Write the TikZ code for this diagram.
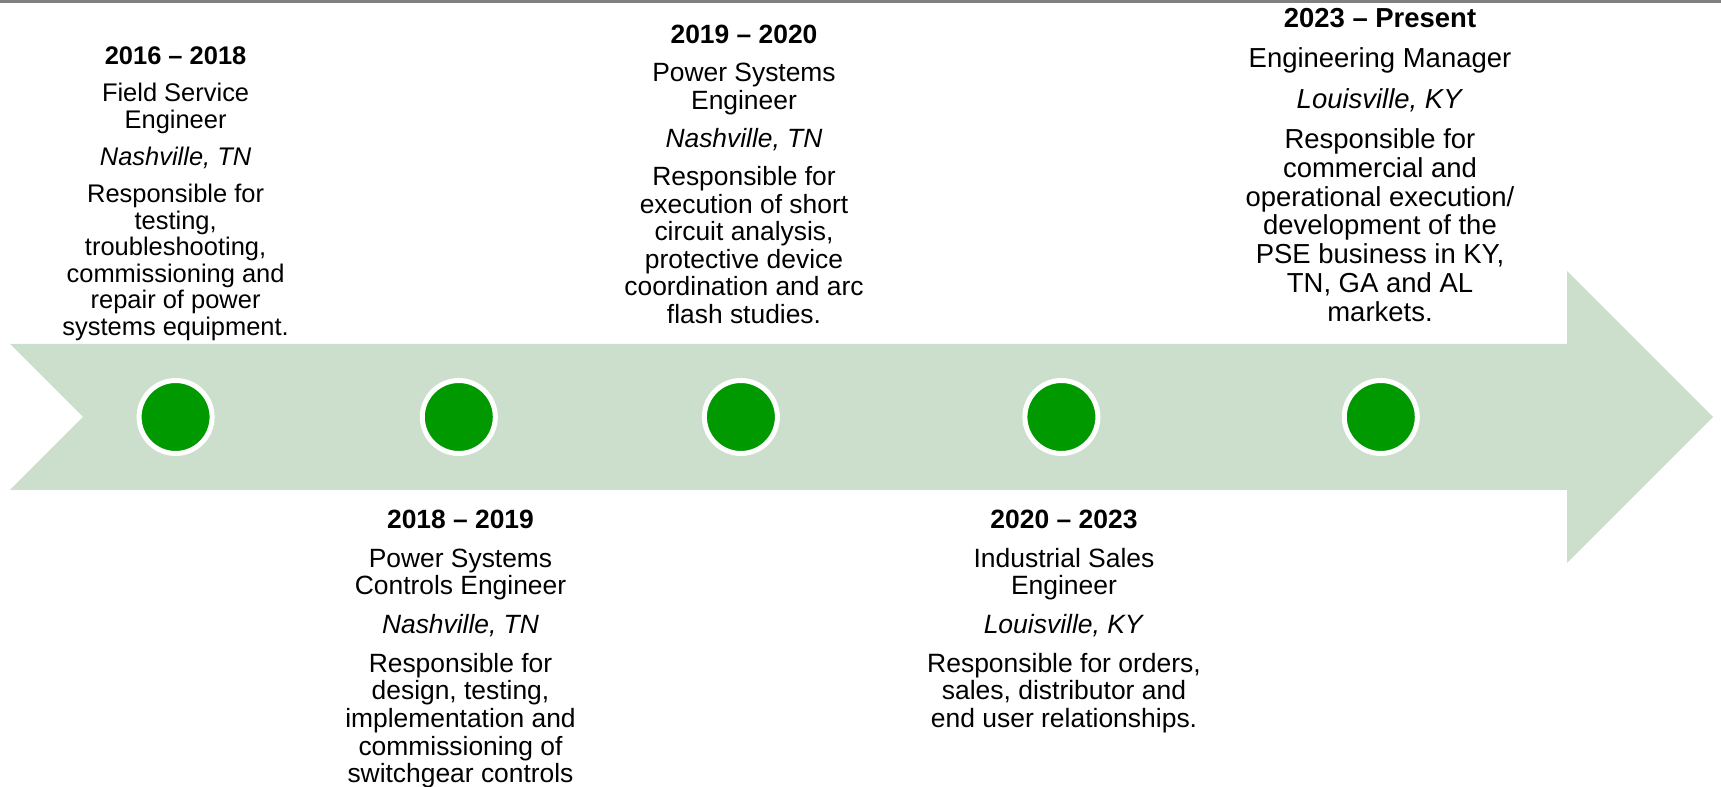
\documentclass[tikz,border=0pt]{standalone}
\usepackage{fontspec}
\setmainfont{Liberation Sans}
\definecolor{arrowgreen}{RGB}{204,223,205}
\definecolor{dotgreen}{RGB}{0,153,0}
\tikzset{
	jobtext/.style 2 args={align=center, inner sep=0pt, anchor=north,
		font=\fontsize{#1}{#2}\selectfont},
	milestone/.style={circle, inner sep=0pt, minimum size=54.75pt,
		fill=dotgreen, draw=white, line width=3.75pt}
}
\begin{document}
\begin{tikzpicture}[x=0.75pt,y=-0.75pt, line join=miter]
	%%Khung va mui ten
	\def \gap{0.4\baselineskip}
	\useasboundingbox (0,0) rectangle (1721,787);
	\fill[gray] (0,0) rectangle (1721,3.5);
	\fill[arrowgreen] (10,344)--(1567,344)--(1567,271)--(1713,417)--(1567,563)
		--(1567,490)--(10,490)--(83,417)--cycle;
	%%Cac moc
	\node[milestone] (dot1) at (175.6,417) {};
	\node[milestone] (dot2) at (458.8,417) {};
	\node[milestone] (dot3) at (740.9,417) {};
	\node[milestone] (dot4) at (1061.4,417) {};
	\node[milestone] (dot5) at (1380.8,417) {};
	%%Noi dung
	\node[jobtext={19.1pt}{19.9pt}] (job1) at (175.6,46.7) {\textbf{2016 -- 2018}\\[\gap]
		Field Service\\ Engineer\\[\gap]
		\textit{Nashville, TN}\\[\gap]
		Responsible for\\ testing,\\ troubleshooting,\\ commissioning and\\
		repair of power\\ systems equipment.};
	\node[jobtext={19.8pt}{20.7pt}] (job2) at (460.5,510) {\textbf{2018 -- 2019}\\[\gap]
		Power Systems\\ Controls Engineer\\[\gap]
		\textit{Nashville, TN}\\[\gap]
		Responsible for\\ design, testing,\\ implementation and\\
		commissioning of\\ switchgear controls};
	\node[jobtext={19.8pt}{20.6pt}] (job3) at (744,24.4) {\textbf{2019 -- 2020}\\[\gap]
		Power Systems\\ Engineer\\[\gap]
		\textit{Nashville, TN}\\[\gap]
		Responsible for\\ execution of short\\ circuit analysis,\\
		protective device\\ coordination and arc\\ flash studies.};
	\node[jobtext={19.85pt}{20.7pt}] (job4) at (1064,510) {\textbf{2020 -- 2023}\\[\gap]
		Industrial Sales\\ Engineer\\[\gap]
		\textit{Louisville, KY}\\[\gap]
		Responsible for orders,\\ sales, distributor and\\ end user relationships.};
	\node[jobtext={20.6pt}{21.6pt}] (job5) at (1380,8) {\textbf{2023 -- Present}\\[\gap]
		Engineering Manager\\[\gap]
		\textit{Louisville, KY}\\[\gap]
		Responsible for\\ commercial and\\ operational execution/\\
		development of the\\ PSE business in KY,\\ TN, GA and AL\\ markets.};
\end{tikzpicture}
\end{document}
